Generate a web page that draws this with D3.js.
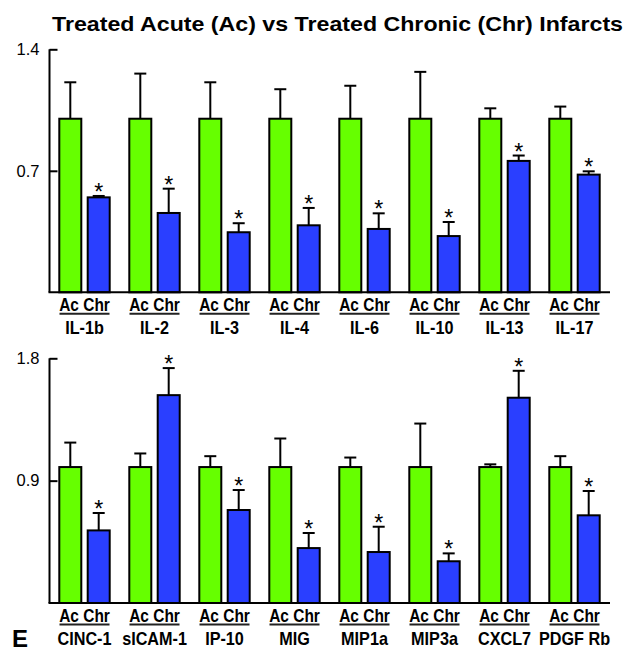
<!DOCTYPE html>
<html><head><meta charset="utf-8">
<script src="https://cdn.jsdelivr.net/npm/d3@7"></script>
<style>
html,body{margin:0;padding:0;background:#fff;}
svg{display:block;}
text{font-family:"Liberation Sans",Arial,sans-serif;}
</style></head>
<body>
<script>
// ---- data ----
const groupLabels = ["Ac", "Chr"];
const topCats   = ["IL-1b","IL-2","IL-3","IL-4","IL-6","IL-10","IL-13","IL-17"];
const topAc     = [1, 1, 1, 1, 1, 1, 1, 1];
const topAcErr  = [0.21, 0.26, 0.21, 0.17, 0.19, 0.27, 0.06, 0.07];
const topChr    = [0.547, 0.457, 0.346, 0.386, 0.365, 0.324, 0.757, 0.678];
const topChrErr = [0.008, 0.14, 0.052, 0.10, 0.09, 0.081, 0.031, 0.019];
const topSig    = [true, true, true, true, true, true, true, true];
const topTicks  = [0.7, 1.4];
const topTickLabels = ["0.7", "1.4"];

const botCats   = ["CINC-1","sICAM-1","IP-10","MIG","MIP1a","MIP3a","CXCL7","PDGF Rb"];
const botAc     = [1, 1, 1, 1, 1, 1, 1, 1];
const botAcErr  = [0.18, 0.10, 0.08, 0.21, 0.07, 0.32, 0.02, 0.08];
const botChr    = [0.534, 1.529, 0.684, 0.404, 0.375, 0.307, 1.51, 0.645];
const botChrErr = [0.128, 0.199, 0.147, 0.111, 0.186, 0.058, 0.198, 0.179];
const botSig    = [true, true, true, true, true, true, true, true];
const botTicks  = [0.9, 1.8];
const botTickLabels = ["0.9", "1.8"];

const title = "Treated Acute (Ac) vs Treated Chronic (Chr) Infarcts";
const panelLetter = "E";

// ---- drawing ----
const W = 630, H = 655;
const svg = d3.select("body").append("svg").attr("width", W).attr("height", H);
const GREEN = "#66ff00", BLUE = "#2a3fff";

svg.append("text").attr("x", 52).attr("y", 31)
  .attr("font-size", 21).attr("font-weight", "bold")
  .attr("textLength", 571).attr("lengthAdjust", "spacingAndGlyphs")
  .text(title);

svg.append("text").attr("x", 12).attr("y", 647)
  .attr("font-size", 24).attr("font-weight", "bold").text(panelLetter);

function panel(cats, ac, acErr, chr, chrErr, sig, ticks, tickLabels, yMax, yBottom, yTop) {
  const g = svg.append("g");
  const x0 = d3.scaleBand().domain(cats).range([49.5, 609.5])
    .paddingInner(0.2514).paddingOuter(0.1257);
  const x1 = d3.scaleBand().domain(groupLabels).range([0, x0.bandwidth()]).paddingInner(0.155);
  const y = d3.scaleLinear().domain([0, yMax]).range([yBottom, yTop]);

  const rows = cats.map((c, i) => ({
    cat: c,
    bars: [
      {key: "Ac", v: ac[i], e: acErr[i], color: GREEN, sig: false},
      {key: "Chr", v: chr[i], e: chrErr[i], color: BLUE, sig: sig[i]}
    ]
  }));

  const grp = g.selectAll("g.grp").data(rows).join("g")
    .attr("transform", d => `translate(${x0(d.cat)},0)`);

  const bar = grp.selectAll("g.bar").data(d => d.bars).join("g");

  // error bars (upper only)
  bar.append("line")
    .attr("x1", d => x1(d.key) + x1.bandwidth() / 2)
    .attr("x2", d => x1(d.key) + x1.bandwidth() / 2)
    .attr("y1", d => y(d.v)).attr("y2", d => y(d.v + d.e))
    .attr("stroke", "#000").attr("stroke-width", 2);
  bar.append("line")
    .attr("x1", d => x1(d.key) + x1.bandwidth() / 2 - 6)
    .attr("x2", d => x1(d.key) + x1.bandwidth() / 2 + 6)
    .attr("y1", d => y(d.v + d.e)).attr("y2", d => y(d.v + d.e))
    .attr("stroke", "#000").attr("stroke-width", 2);

  bar.append("rect")
    .attr("x", d => x1(d.key) + 1)
    .attr("width", x1.bandwidth() - 2)
    .attr("y", d => y(d.v))
    .attr("height", d => y(0) - y(d.v))
    .attr("fill", d => d.color).attr("stroke", "#000").attr("stroke-width", 2);

  bar.filter(d => d.sig).append("text")
    .attr("x", d => x1(d.key) + x1.bandwidth() / 2)
    .attr("y", d => y(d.v + d.e) + 4)
    .attr("text-anchor", "middle").attr("font-size", 23)
    .text("*");

  // y axis
  const axis = d3.axisLeft(y).tickValues(ticks)
    .tickFormat((d, i) => tickLabels[i])
    .tickSizeInner(-8).tickSizeOuter(0).tickPadding(10);
  const ag = g.append("g").attr("transform", "translate(49.5,0)").call(axis);
  ag.select(".domain").attr("stroke", "#000").attr("stroke-width", 2)
    .attr("d", `M0,${y(yMax)}V${y(0)}`);
  ag.selectAll(".tick line").attr("stroke", "#000").attr("stroke-width", 2);
  ag.selectAll(".tick text").attr("font-size", 16.5).attr("fill", "#000")
    .attr("font-family", "'Liberation Sans', Arial, sans-serif");

  // baseline
  g.append("line").attr("x1", 48.5).attr("x2", 610).attr("y1", y(0)).attr("y2", y(0))
    .attr("stroke", "#000").attr("stroke-width", 2);

  // category labels
  const lab = g.selectAll("g.lab").data(rows).join("g")
    .attr("transform", d => `translate(${x0(d.cat) + x0.bandwidth() / 2},${y(0)})`);
  lab.append("text").attr("transform", "translate(0,18.5) scale(0.86,1)")
    .attr("text-anchor", "middle").attr("font-size", 18).attr("font-weight", "bold")
    .text(groupLabels.join(" "));
  lab.append("line").attr("x1", -25).attr("x2", 25).attr("y1", 21.5).attr("y2", 21.5)
    .attr("stroke", "#222").attr("stroke-width", 2);
  lab.append("text").attr("transform", "translate(0,42) scale(0.9,1)")
    .attr("text-anchor", "middle").attr("font-size", 18).attr("font-weight", "bold")
    .text(d => d.cat);
}

panel(topCats, topAc, topAcErr, topChr, topChrErr, topSig, topTicks, topTickLabels, 1.4, 292.3, 49.3);
panel(botCats, botAc, botAcErr, botChr, botChrErr, botSig, botTicks, botTickLabels, 1.8, 603, 358.3);
</script>
</body></html>
